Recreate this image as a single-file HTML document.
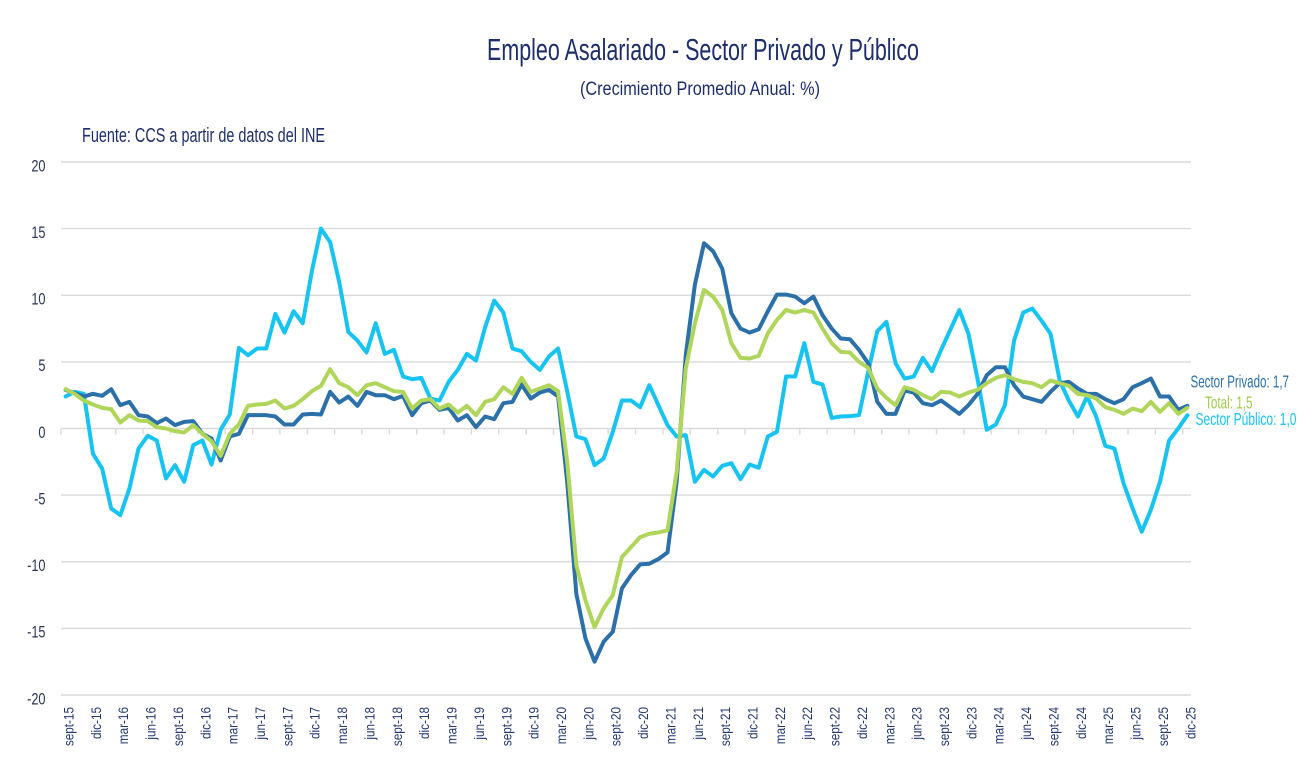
<!DOCTYPE html>
<html><head><meta charset="utf-8"><style>
html,body{margin:0;padding:0;background:#fff;}
svg{display:block;font-family:"Liberation Sans",sans-serif;}
</style></head><body>
<svg width="1315" height="778" viewBox="0 0 1315 778" xmlns="http://www.w3.org/2000/svg">
<rect width="1315" height="778" fill="#fff"/>
<!-- titles -->
<text x="703" y="60" text-anchor="middle" font-size="31" fill="#1d2e6a" textLength="432" lengthAdjust="spacingAndGlyphs">Empleo Asalariado - Sector Privado y Público</text>
<text x="700" y="95" text-anchor="middle" font-size="19.5" fill="#1d2e6a" textLength="240" lengthAdjust="spacingAndGlyphs">(Crecimiento Promedio Anual: %)</text>
<text x="82" y="142" font-size="20" fill="#1d2e6a" textLength="243" lengthAdjust="spacingAndGlyphs">Fuente: CCS a partir de datos del INE</text>
<!-- gridlines -->
<g stroke="#d9d9d9" stroke-width="1.4">
<line x1="61" y1="162" x2="1191" y2="162"/>
<line x1="61" y1="228.6" x2="1191" y2="228.6"/>
<line x1="61" y1="295.3" x2="1191" y2="295.3"/>
<line x1="61" y1="361.9" x2="1191" y2="361.9"/>
<line x1="61" y1="428.5" x2="1191" y2="428.5"/>
<line x1="61" y1="495.1" x2="1191" y2="495.1"/>
<line x1="61" y1="561.8" x2="1191" y2="561.8"/>
<line x1="61" y1="628.4" x2="1191" y2="628.4"/>
<line x1="61" y1="695" x2="1191" y2="695"/>
</g>
<path stroke="#d9d9d9" stroke-width="1.4" fill="none" d="M61 428.5v6M88.36 428.5v6M115.72 428.5v6M143.08 428.5v6M170.44 428.5v6M197.8 428.5v6M225.16 428.5v6M252.52 428.5v6M279.88 428.5v6M307.24 428.5v6M334.6 428.5v6M361.96 428.5v6M389.32 428.5v6M416.68 428.5v6M444.04 428.5v6M471.4 428.5v6M498.76 428.5v6M526.12 428.5v6M553.48 428.5v6M580.84 428.5v6M608.2 428.5v6M635.56 428.5v6M662.92 428.5v6M690.28 428.5v6M717.64 428.5v6M745 428.5v6M772.36 428.5v6M799.72 428.5v6M827.08 428.5v6M854.44 428.5v6M881.8 428.5v6M909.16 428.5v6M936.52 428.5v6M963.88 428.5v6M991.24 428.5v6M1018.6 428.5v6M1045.96 428.5v6M1073.32 428.5v6M1100.68 428.5v6M1128.04 428.5v6M1155.4 428.5v6M1182.76 428.5v6"/>
<!-- y labels -->
<g font-size="17" fill="#2b3556" text-anchor="end">
<text transform="translate(45.5,171.3) scale(0.75,1)">20</text>
<text transform="translate(45.5,237.9) scale(0.75,1)">15</text>
<text transform="translate(45.5,304.6) scale(0.75,1)">10</text>
<text transform="translate(45.5,371.2) scale(0.75,1)">5</text>
<text transform="translate(45.5,437.8) scale(0.75,1)">0</text>
<text transform="translate(45.5,504.4) scale(0.75,1)">-5</text>
<text transform="translate(45.5,571.1) scale(0.75,1)">-10</text>
<text transform="translate(45.5,637.7) scale(0.75,1)">-15</text>
<text transform="translate(45.5,704.3) scale(0.75,1)">-20</text>
</g>
<!-- x labels -->
<g font-size="14" fill="#22386e" text-anchor="end">
<text transform="translate(73.5,707) rotate(-90) scale(0.84,1)">sept-15</text>
<text transform="translate(100.9,707) rotate(-90) scale(0.84,1)">dic-15</text>
<text transform="translate(128.2,707) rotate(-90) scale(0.84,1)">mar-16</text>
<text transform="translate(155.6,707) rotate(-90) scale(0.84,1)">jun-16</text>
<text transform="translate(182.9,707) rotate(-90) scale(0.84,1)">sept-16</text>
<text transform="translate(210.3,707) rotate(-90) scale(0.84,1)">dic-16</text>
<text transform="translate(237.7,707) rotate(-90) scale(0.84,1)">mar-17</text>
<text transform="translate(265,707) rotate(-90) scale(0.84,1)">jun-17</text>
<text transform="translate(292.4,707) rotate(-90) scale(0.84,1)">sept-17</text>
<text transform="translate(319.7,707) rotate(-90) scale(0.84,1)">dic-17</text>
<text transform="translate(347.1,707) rotate(-90) scale(0.84,1)">mar-18</text>
<text transform="translate(374.5,707) rotate(-90) scale(0.84,1)">jun-18</text>
<text transform="translate(401.8,707) rotate(-90) scale(0.84,1)">sept-18</text>
<text transform="translate(429.2,707) rotate(-90) scale(0.84,1)">dic-18</text>
<text transform="translate(456.5,707) rotate(-90) scale(0.84,1)">mar-19</text>
<text transform="translate(483.9,707) rotate(-90) scale(0.84,1)">jun-19</text>
<text transform="translate(511.3,707) rotate(-90) scale(0.84,1)">sept-19</text>
<text transform="translate(538.6,707) rotate(-90) scale(0.84,1)">dic-19</text>
<text transform="translate(566,707) rotate(-90) scale(0.84,1)">mar-20</text>
<text transform="translate(593.3,707) rotate(-90) scale(0.84,1)">jun-20</text>
<text transform="translate(620.7,707) rotate(-90) scale(0.84,1)">sept-20</text>
<text transform="translate(648.1,707) rotate(-90) scale(0.84,1)">dic-20</text>
<text transform="translate(675.4,707) rotate(-90) scale(0.84,1)">mar-21</text>
<text transform="translate(702.8,707) rotate(-90) scale(0.84,1)">jun-21</text>
<text transform="translate(730.1,707) rotate(-90) scale(0.84,1)">sept-21</text>
<text transform="translate(757.5,707) rotate(-90) scale(0.84,1)">dic-21</text>
<text transform="translate(784.9,707) rotate(-90) scale(0.84,1)">mar-22</text>
<text transform="translate(812.2,707) rotate(-90) scale(0.84,1)">jun-22</text>
<text transform="translate(839.6,707) rotate(-90) scale(0.84,1)">sept-22</text>
<text transform="translate(866.9,707) rotate(-90) scale(0.84,1)">dic-22</text>
<text transform="translate(894.3,707) rotate(-90) scale(0.84,1)">mar-23</text>
<text transform="translate(921.7,707) rotate(-90) scale(0.84,1)">jun-23</text>
<text transform="translate(949,707) rotate(-90) scale(0.84,1)">sept-23</text>
<text transform="translate(976.4,707) rotate(-90) scale(0.84,1)">dic-23</text>
<text transform="translate(1003.7,707) rotate(-90) scale(0.84,1)">mar-24</text>
<text transform="translate(1031.1,707) rotate(-90) scale(0.84,1)">jun-24</text>
<text transform="translate(1058.5,707) rotate(-90) scale(0.84,1)">sept-24</text>
<text transform="translate(1085.8,707) rotate(-90) scale(0.84,1)">dic-24</text>
<text transform="translate(1113.2,707) rotate(-90) scale(0.84,1)">mar-25</text>
<text transform="translate(1140.5,707) rotate(-90) scale(0.84,1)">jun-25</text>
<text transform="translate(1167.9,707) rotate(-90) scale(0.84,1)">sept-25</text>
<text transform="translate(1195.3,707) rotate(-90) scale(0.84,1)">dic-25</text>
</g>
<!-- series -->
<g transform="matrix(9.12 0 0 -13.325 65.6 428.5)" fill="none" stroke-linejoin="round" stroke-linecap="round">
<polyline vector-effect="non-scaling-stroke" stroke="#17c4f1" stroke-width="4" points="0,2.4 1,2.75 2,2.6 3,-1.9 4,-3.0 5,-6.0 6,-6.5 7,-4.5 8,-1.5 9,-0.55 10,-0.9 11,-3.75 12,-2.75 13,-4.0 14,-1.25 15,-0.9 16,-2.7 17,-0.1 18,1.05 19,6.05 20,5.5 21,6.0 22,6.0 23,8.6 24,7.2 25,8.8 26,7.9 27,11.8 28,15.0 29,14.0 30,11.0 31,7.25 32,6.6 33,5.7 34,7.9 35,5.6 36,5.9 37,3.9 38,3.7 39,3.8 40,2.25 41,2.1 42,3.5 43,4.4 44,5.6 45,5.1 46,7.6 47,9.6 48,8.7 49,6.0 50,5.8 51,5.0 52,4.4 53,5.4 54,6.0 55,2.8 56,-0.6 57,-0.8 58,-2.75 59,-2.25 60,-0.25 61,2.1 62,2.1 63,1.6 64,3.25 65,1.75 66,0.25 67,-0.6 68,-0.5 69,-4.0 70,-3.1 71,-3.6 72,-2.8 73,-2.6 74,-3.8 75,-2.7 76,-2.95 77,-0.6 78,-0.25 79,3.9 80,3.9 81,6.4 82,3.5 83,3.3 84,0.8 85,0.9 86,0.93 87,1.0 88,4.25 89,7.3 90,8.0 91,4.9 92,3.75 93,3.9 94,5.3 95,4.3 96,5.9 97,7.4 98,8.9 99,7.1 100,3.7 101,-0.1 102,0.3 103,1.75 104,6.6 105,8.7 106,9.0 107,8.1 108,7.1 109,3.6 110,2.1 111,0.9 112,2.4 113,0.9 114,-1.3 115,-1.5 116,-4.1 117,-6.0 118,-7.75 119,-6.1 120,-4.0 121,-0.9 122,0.0 123,1.0"/>
<polyline vector-effect="non-scaling-stroke" stroke="#2c70aa" stroke-width="4" points="0,2.9 1,2.65 2,2.4 3,2.6 4,2.45 5,2.95 6,1.75 7,2.0 8,1.0 9,0.9 10,0.4 11,0.75 12,0.25 13,0.5 14,0.55 15,-0.4 16,-0.75 17,-2.4 18,-0.6 19,-0.4 20,1.0 21,1.0 22,1.0 23,0.9 24,0.3 25,0.3 26,1.05 27,1.1 28,1.05 29,2.75 30,1.95 31,2.4 32,1.7 33,2.75 34,2.5 35,2.5 36,2.2 37,2.45 38,1.0 39,1.9 40,2.1 41,1.4 42,1.55 43,0.6 44,1.0 45,0.1 46,0.9 47,0.7 48,1.9 49,2.0 50,3.3 51,2.25 52,2.7 53,2.9 54,2.4 55,-4.0 56,-12.4 57,-15.75 58,-17.5 59,-16.0 60,-15.25 61,-12.0 62,-11.0 63,-10.2 64,-10.15 65,-9.8 66,-9.3 67,-4.0 68,5.5 69,10.8 70,13.9 71,13.3 72,12.0 73,8.65 74,7.5 75,7.2 76,7.45 77,8.8 78,10.05 79,10.05 80,9.9 81,9.4 82,9.9 83,8.5 84,7.5 85,6.75 86,6.7 87,5.9 88,4.9 89,2.0 90,1.1 91,1.1 92,2.85 93,2.7 94,1.9 95,1.75 96,2.1 97,1.6 98,1.1 99,1.75 100,2.6 101,4.0 102,4.6 103,4.6 104,3.25 105,2.4 106,2.2 107,2.0 108,2.75 109,3.4 110,3.5 111,3.0 112,2.6 113,2.6 114,2.2 115,1.9 116,2.2 117,3.1 118,3.4 119,3.75 120,2.4 121,2.4 122,1.4 123,1.7"/>
<polyline vector-effect="non-scaling-stroke" stroke="#afd55a" stroke-width="4" points="0,2.95 1,2.6 2,2.1 3,1.8 4,1.55 5,1.45 6,0.45 7,1.0 8,0.6 9,0.55 10,0.1 11,0.0 12,-0.2 13,-0.3 14,0.25 15,-0.4 16,-0.95 17,-2.05 18,-0.4 19,0.3 20,1.7 21,1.8 22,1.85 23,2.1 24,1.5 25,1.7 26,2.2 27,2.8 28,3.2 29,4.45 30,3.4 31,3.1 32,2.5 33,3.25 34,3.4 35,3.1 36,2.8 37,2.75 38,1.5 39,2.1 40,2.2 41,1.5 42,1.8 43,1.2 44,1.7 45,1.0 46,2.0 47,2.2 48,3.1 49,2.6 50,3.8 51,2.75 52,3.0 53,3.25 54,2.8 55,-2.5 56,-10.25 57,-12.9 58,-14.9 59,-13.5 60,-12.5 61,-9.65 62,-8.9 63,-8.15 64,-7.9 65,-7.8 66,-7.65 67,-3.25 68,4.5 69,7.9 70,10.4 71,9.9 72,8.9 73,6.4 74,5.3 75,5.25 76,5.45 77,7.15 78,8.15 79,8.9 80,8.7 81,8.9 82,8.7 83,7.5 84,6.4 85,5.75 86,5.7 87,5.0 88,4.55 89,3.0 90,2.3 91,1.75 92,3.1 93,2.9 94,2.5 95,2.2 96,2.75 97,2.7 98,2.4 99,2.7 100,2.9 101,3.4 102,3.8 103,4.0 104,3.7 105,3.5 106,3.4 107,3.1 108,3.6 109,3.4 110,3.2 111,2.6 112,2.5 113,2.25 114,1.6 115,1.4 116,1.1 117,1.5 118,1.3 119,2.0 120,1.25 121,1.9 122,1.1 123,1.55"/>
</g>
<!-- end labels -->
<text x="1190.5" y="387.5" font-size="17.5" fill="#2c70aa" textLength="98.5" lengthAdjust="spacingAndGlyphs">Sector Privado: 1,7</text>
<text x="1205" y="408.5" font-size="17.5" fill="#a3cd4e" textLength="47.5" lengthAdjust="spacingAndGlyphs">Total: 1,5</text>
<text x="1195.5" y="425" font-size="17.5" fill="#17c4f1" textLength="101" lengthAdjust="spacingAndGlyphs">Sector Público: 1,0</text>
</svg>
</body></html>
